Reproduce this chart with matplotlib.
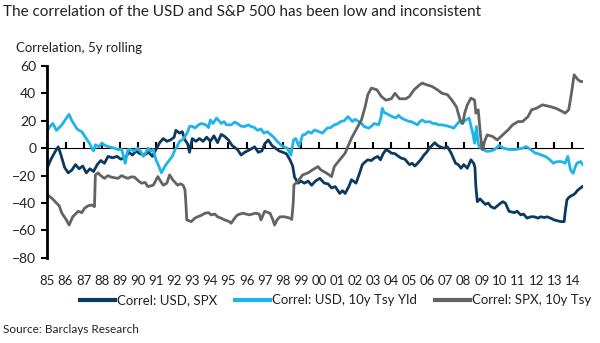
import matplotlib
matplotlib.use("Agg")
import matplotlib.pyplot as plt
from matplotlib.ticker import FixedLocator, NullFormatter

plt.rcParams['font.family'] = ['Lato', 'DejaVu Sans']

# Correl: USD, SPX
usd_spx_years = [1985.0, 1985.2, 1985.45, 1985.6, 1985.75, 1985.95, 1986.15, 1986.35, 1986.55, 1986.75,
                 1986.95, 1987.15, 1987.35, 1987.55, 1987.75, 1987.95, 1988.15, 1988.35, 1988.6, 1988.85,
                 1989.05, 1989.3, 1989.5, 1989.7, 1989.9, 1990.1, 1990.35, 1990.6, 1990.8, 1991.0,
                 1991.2, 1991.4, 1991.6, 1991.8, 1992.0, 1992.1, 1992.3, 1992.45, 1992.6, 1992.75,
                 1992.85, 1993.0, 1993.2, 1993.4, 1993.6, 1993.8, 1994.0, 1994.2, 1994.4, 1994.6,
                 1994.8, 1995.0, 1995.2, 1995.5, 1995.7, 1995.9, 1996.2, 1996.45, 1996.65, 1996.85,
                 1997.0, 1997.2, 1997.4, 1997.6, 1997.8, 1998.0, 1998.2, 1998.4, 1998.55, 1998.65,
                 1998.85, 1999.0, 1999.2, 1999.4, 1999.6, 1999.8, 2000.05, 2000.3, 2000.5, 2000.7,
                 2000.9, 2001.15, 2001.3, 2001.45, 2001.65, 2001.8, 2002.05, 2002.25, 2002.4, 2002.55,
                 2002.7, 2002.9, 2003.05, 2003.25, 2003.4, 2003.55, 2003.7, 2003.85, 2004.0, 2004.2,
                 2004.4, 2004.55, 2004.75, 2005.0, 2005.15, 2005.3, 2005.45, 2005.65, 2005.8, 2005.95,
                 2006.1, 2006.25, 2006.4, 2006.55, 2006.7, 2006.9, 2007.1, 2007.3, 2007.45, 2007.55,
                 2007.7, 2007.85, 2008.0, 2008.2, 2008.4, 2008.55, 2008.62, 2008.67, 2008.75, 2008.9,
                 2009.05, 2009.2, 2009.35, 2009.5, 2009.7, 2009.95, 2010.15, 2010.3, 2010.5, 2010.8,
                 2010.95, 2011.15, 2011.3, 2011.5, 2011.7, 2011.9, 2012.1, 2012.25, 2012.45, 2012.6,
                 2012.8, 2013.0, 2013.2, 2013.35, 2013.55, 2013.6, 2013.7, 2013.8, 2013.9, 2014.05,
                 2014.15, 2014.3, 2014.45, 2014.55]
usd_spx = [-14, -8, -2, 1, -5, -14, -18, -16, -12, -15,
           -13, -18, -15, -17, -12, -9, -11, -6, -7, -6,
           -8, -7, -3, -5, -2, -4, -5, -3, -6, -1,
           4, 7, 5, 6, 8, 13, 11, 12, 6, 3,
           -3, 7, 5, 7, 5, 8, 5, 9, 4, 10,
           8.5, 6, 2, -1, -5, -3, -1, 1, -3, -2,
           3, 6, 2, 0, -2, -3, -4, -8.5, -13, -21,
           -25.5, -24, -25.5, -24, -27, -24, -22, -25.5, -26, -29,
           -28, -33, -31, -33, -28, -23, -25.5, -18, -12, -10,
           -8.5, -9, -7.3, -6, -8.5, -4, -1.2, -2, -3.6, -4,
           -6, -7.3, -8, -12, -11, -13, -11, -8, -5, -3,
           0, 2, 4, 2, 1, 0, 1, -3.5, -8, -11,
           -12, -14.6, -12, -14.6, -8.5, -11, -14, -28, -39, -37,
           -39, -41, -40, -42.6, -43.8, -41, -39, -40, -46, -47,
           -46, -48.6, -48, -51, -50, -50, -51, -50, -50.5, -50,
           -51, -52.3, -53, -53.5, -53.5, -47, -37.7, -36, -35, -34,
           -33, -30.6, -29, -28]

# Correl: USD, 10y Tsy Yld
usd_tsy_years = [1985.0, 1985.15, 1985.3, 1985.5, 1985.65, 1985.8, 1986.05, 1986.2, 1986.35, 1986.5,
                 1986.6, 1986.75, 1986.9, 1987.05, 1987.2, 1987.35, 1987.45, 1987.55, 1987.65, 1987.85,
                 1988.0, 1988.2, 1988.35, 1988.55, 1988.7, 1988.9, 1989.1, 1989.25, 1989.3, 1989.45,
                 1989.6, 1989.8, 1990.0, 1990.15, 1990.3, 1990.45, 1990.55, 1990.7, 1990.85, 1991.0,
                 1991.15, 1991.3, 1991.5, 1991.75, 1991.9, 1992.05, 1992.2, 1992.3, 1992.45, 1992.6,
                 1992.75, 1992.85, 1993.0, 1993.15, 1993.35, 1993.5, 1993.75, 1993.9, 1994.0, 1994.15,
                 1994.35, 1994.6, 1994.75, 1994.9, 1995.15, 1995.35, 1995.5, 1995.7, 1995.9, 1996.1,
                 1996.25, 1996.45, 1996.6, 1996.8, 1996.95, 1997.15, 1997.35, 1997.5, 1997.7, 1997.85,
                 1998.0, 1998.25, 1998.45, 1998.6, 1998.72, 1998.9, 1999.1, 1999.25, 1999.4, 1999.6,
                 1999.75, 2000.0, 2000.2, 2000.45, 2000.65, 2000.85, 2001.0, 2001.2, 2001.4, 2001.6,
                 2001.85, 2002.0, 2002.2, 2002.35, 2002.5, 2002.75, 2002.9, 2003.05, 2003.3, 2003.42,
                 2003.5, 2003.6, 2003.7, 2003.9, 2004.05, 2004.25, 2004.4, 2004.55, 2004.7, 2005.0,
                 2005.1, 2005.3, 2005.45, 2005.55, 2005.7, 2005.9, 2006.1, 2006.3, 2006.45, 2006.6,
                 2006.8, 2007.0, 2007.2, 2007.45, 2007.6, 2007.75, 2007.9, 2008.05, 2008.3, 2008.42,
                 2008.5, 2008.6, 2008.7, 2008.78, 2008.85, 2009.05, 2009.3, 2009.5, 2009.7, 2009.95,
                 2010.2, 2010.5, 2010.8, 2011.05, 2011.25, 2011.45, 2011.7, 2011.95, 2012.1, 2012.3,
                 2012.5, 2012.65, 2012.8, 2012.95, 2013.1, 2013.3, 2013.45, 2013.6, 2013.75, 2013.9,
                 2014.05, 2014.15, 2014.25, 2014.45, 2014.58]
usd_tsy = [13, 16, 18, 13, 15, 17, 22, 24.6, 20, 17,
           14.6, 13, 12, 9, 6, 3, 0, -2, 2.5, 1,
           3.6, 2, 1.2, 0.5, 0, -1, -0.8, -8.5, -11, -1,
           -1, -2, 0, -2.4, -6, -3, 0, -2, -1, -8.5,
           -13, -18, -13, -8.5, -6, -1, 2, 5, 6, 8.5,
           12, 15.8, 16, 14.6, 17, 18, 17, 15, 20.6, 18,
           22, 18, 19.4, 17, 17, 19, 18, 16, 15.8, 17,
           15.8, 15, 13, 14, 11, 12, 9.7, 8, 4.9, 3,
           1.2, 0, -5, 6, 7, 1.2, 9.7, 10, 12, 11,
           13.3, 12, 11, 14.6, 15, 17, 17.5, 19.4, 20, 23,
           19.4, 21, 19.4, 18, 15.8, 14.6, 16, 18, 17, 22,
           29, 26, 25.5, 24, 23, 22, 24, 22, 21, 19.4,
           19.4, 18, 17, 19, 20.6, 19, 19.4, 18, 18, 17,
           17, 16.5, 15.8, 14.6, 17, 19.4, 18, 20, 22, 15,
           11, 3.6, 15.8, 5, 1.2, -1, -2.4, -2, -1, 2,
           0, -1, -1, -0.6, 0, 1.2, -1, -3.6, -4, -5,
           -6, -7.3, -9, -11, -10, -9.7, -10, -11, -6, -16,
           -18.3, -14, -11, -9.7, -12]

# Correl: SPX, 10y Tsy
spx_tsy_years = [1985.0, 1985.25, 1985.5, 1985.65, 1985.8, 1986.05, 1986.2, 1986.4, 1986.55, 1986.7,
                 1986.9, 1987.05, 1987.25, 1987.45, 1987.6, 1987.65, 1987.8, 1987.9, 1988.15, 1988.35,
                 1988.5, 1988.7, 1988.9, 1989.1, 1989.25, 1989.45, 1989.6, 1989.8, 1990.0, 1990.2,
                 1990.4, 1990.55, 1990.85, 1991.1, 1991.25, 1991.4, 1991.6, 1991.75, 1991.95, 1992.2,
                 1992.35, 1992.5, 1992.6, 1992.65, 1992.7, 1992.95, 1993.15, 1993.3, 1993.5, 1993.7,
                 1993.9, 1994.05, 1994.25, 1994.4, 1994.6, 1994.8, 1995.05, 1995.15, 1995.35, 1995.5,
                 1995.8, 1996.15, 1996.5, 1996.7, 1996.8, 1997.0, 1997.3, 1997.45, 1997.55, 1997.7,
                 1997.85, 1998.1, 1998.4, 1998.5, 1998.58, 1998.62, 1998.85, 1999.1, 1999.4, 1999.65,
                 1999.95, 2000.1, 2000.4, 2000.7, 2000.85, 2001.15, 2001.45, 2001.6, 2001.8, 2002.05,
                 2002.35, 2002.55, 2002.7, 2002.9, 2003.2, 2003.45, 2003.7, 2004.0, 2004.2, 2004.45,
                 2004.8, 2005.0, 2005.25, 2005.55, 2005.7, 2006.0, 2006.25, 2006.55, 2006.8, 2007.1,
                 2007.35, 2007.6, 2007.8, 2007.95, 2008.05, 2008.2, 2008.4, 2008.6, 2008.67, 2008.8,
                 2008.9, 2009.0, 2009.05, 2009.15, 2009.3, 2009.6, 2009.85, 2010.15, 2010.45, 2010.7,
                 2011.0, 2011.25, 2011.55, 2011.75, 2012.0, 2012.35, 2012.75, 2013.1, 2013.45, 2013.6,
                 2013.8, 2013.95, 2014.1, 2014.3, 2014.45, 2014.58]
spx_tsy = [-34, -36.5, -40, -42, -47.4, -52.3, -56, -50, -48, -46,
           -47, -43.8, -42, -41.4, -42.6, -19.5, -18, -19.5, -22, -20,
           -21, -21.5, -22, -20, -21, -22, -21, -21, -23.5, -25.5,
           -25, -28, -27, -20.7, -24, -27, -25.5, -19.5, -23.5, -27,
           -26, -27, -30.4, -40, -52.3, -53.5, -51, -50, -49, -47.4,
           -47, -48.6, -48, -50, -51, -52.3, -53.5, -54.7, -51, -48.6,
           -47.4, -48.6, -47.4, -48, -52.3, -46, -47.4, -52, -56, -52,
           -50, -50, -51, -52, -40, -26.8, -24, -19.5, -18, -15.8,
           -13.4, -15.8, -18, -20.7, -13.4, -8.5, -3.6, 1.2, 7.3, 13.3,
           20.6, 30, 39, 43.8, 42.6, 37.7, 35, 36, 40, 36,
           36, 37.7, 42.5, 46, 47.4, 46, 45, 42.5, 40, 39,
           35, 30, 20.6, 18, 25.5, 31.6, 36.5, 35, 25.5, 28,
           13.3, 0, -1, 5, 9.7, 8.5, 6, 9.7, 13.3, 17,
           19.4, 19.4, 23, 28, 29, 31.6, 30.4, 29, 26.7, 25.5,
           28, 40, 53.5, 50, 48.6, 48.6]

series_labels = ["Correl: USD, SPX", "Correl: USD, 10y Tsy Yld", "Correl: SPX, 10y Tsy"]
series_colors = ["#0c3a5e", "#1eb4e9", "#636363"]
year_ticks = list(range(1985, 2015))
year_labels = [f"{y % 100:02d}" for y in year_ticks]
y_ticks = [-80, -60, -40, -20, 0, 20, 40, 60]

text_color = "#222222"

fig = plt.figure(figsize=(6.0, 3.43), dpi=100)
ax = fig.add_axes([0.079, 0.248, 0.893, 0.560])

for yrs, vals, lab, col in zip([usd_spx_years, usd_tsy_years, spx_tsy_years],
                               [usd_spx, usd_tsy, spx_tsy],
                               series_labels, series_colors):
    ax.plot(yrs, vals, color=col, lw=2.0, label=lab, solid_joinstyle='round')

ymin, ymax = -80, 60
ax.set_ylim(ymin, ymax)
ax.set_xlim(1985, 2014.6)

for s in ['top', 'right', 'bottom']:
    ax.spines[s].set_visible(False)
ax.spines['left'].set_linewidth(2.0)
ax.spines['left'].set_color('black')

ax.set_yticks(y_ticks)
ax.tick_params(axis='y', direction='out', length=4, width=1.5, color='black',
               labelsize=10, labelcolor=text_color, pad=4)

# Year labels along the bottom, tick marks on the zero line
ax.set_xticks(year_ticks)
ax.set_xticklabels(year_labels)
ax.tick_params(axis='x', length=0, labelsize=9.5, labelcolor=text_color, pad=12)

zero_pos = (0 - ymin) / (ymax - ymin)
zax = ax.secondary_xaxis(zero_pos)
zax.xaxis.set_major_locator(FixedLocator(year_ticks))
zax.xaxis.set_major_formatter(NullFormatter())
zax.spines['bottom'].set_linewidth(1.5)
zax.spines['bottom'].set_color('black')
zax.tick_params(axis='x', direction='out', length=4, width=1.5, color='black')

fig.text(0.005, 0.965, "The correlation of the USD and S&P 500 has been low and inconsistent",
         fontsize=11, color=text_color, ha='left', va='center')
fig.text(0.027, 0.861, "Correlation, 5y rolling", fontsize=9.5, color=text_color,
         ha='left', va='center')
fig.text(0.005, 0.038, "Source: Barclays Research", fontsize=8.5, color=text_color,
         ha='left', va='center')

leg = fig.legend(loc='center right', bbox_to_anchor=(0.985, 0.125), ncol=3, frameon=False,
                 fontsize=9.5, handlelength=2.65, handletextpad=0.15, columnspacing=1.35,
                 borderaxespad=0, borderpad=0)
for t in leg.get_texts():
    t.set_color(text_color)
for h in leg.get_lines():
    h.set_linewidth(3.0)

fig.savefig("out.png", dpi=100)
